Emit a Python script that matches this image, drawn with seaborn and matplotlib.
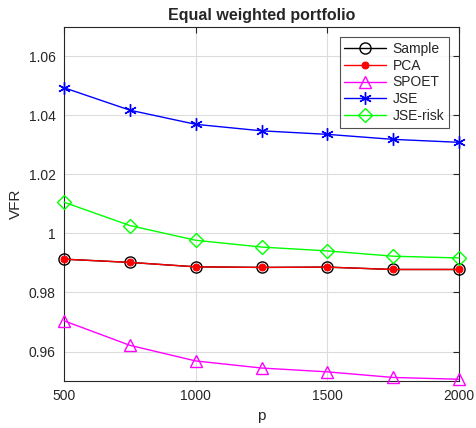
import matplotlib
matplotlib.use("Agg")
import matplotlib.pyplot as plt
import seaborn as sns
import pandas as pd
from matplotlib.ticker import FuncFormatter

# Portfolio dimension
p = [500, 750, 1000, 1250, 1500, 1750, 2000]

# Variance forecast ratio for each estimator
vfr_sample = [0.9913, 0.9902, 0.9887, 0.9885, 0.9886, 0.9878, 0.9878]
vfr_pca = [0.9913, 0.9902, 0.9887, 0.9885, 0.9886, 0.9878, 0.9878]
vfr_spoet = [0.9704, 0.9621, 0.9568, 0.9544, 0.9531, 0.9512, 0.9506]
vfr_jse = [1.0494, 1.0418, 1.0370, 1.0348, 1.0336, 1.0319, 1.0309]
vfr_jse_risk = [1.0106, 1.0027, 0.9977, 0.9954, 0.9941, 0.9923, 0.9917]

series_names = ["Sample", "PCA", "SPOET", "JSE", "JSE-risk"]
series_values = [vfr_sample, vfr_pca, vfr_spoet, vfr_jse, vfr_jse_risk]

x_ticks = [500, 1000, 1500, 2000]
y_ticks = [0.96, 0.98, 1.00, 1.02, 1.04, 1.06]

styles = {
    "Sample": dict(color="black", marker="o", markersize=8, markerfacecolor="none",
                   markeredgecolor="black", markeredgewidth=1.0),
    "PCA": dict(color="red", marker="o", markersize=5, markerfacecolor="red",
                markeredgecolor="red"),
    "SPOET": dict(color="magenta", marker="^", markersize=9, markerfacecolor="none",
                  markeredgecolor="magenta", markeredgewidth=1.0),
    "JSE": dict(color="blue", marker=(6, 2, 0), markersize=9, markeredgecolor="blue",
                markeredgewidth=1.0),
    "JSE-risk": dict(color="#00ff00", marker="D", markersize=7.5, markerfacecolor="none",
                     markeredgecolor="#00ff00", markeredgewidth=1.0),
}

sns.set_theme(style="white")
plt.rcParams["font.family"] = ["Liberation Sans", "DejaVu Sans"]

fig = plt.figure(figsize=(4.76, 4.28), dpi=100)
ax = fig.add_axes([0.1345, 0.1098, 0.8298, 0.8272])

for name, vals in zip(series_names, series_values):
    df = pd.DataFrame({"p": p, "VFR": vals})
    sns.lineplot(data=df, x="p", y="VFR", ax=ax, label=name, linewidth=1.0,
                 clip_on=False, zorder=3, **styles[name])

ax.set_xlim(500, 2000)
ax.set_ylim(0.95, 1.07)
ax.set_xticks(x_ticks)
ax.set_yticks(y_ticks)
ax.yaxis.set_major_formatter(FuncFormatter(lambda v, _: f"{v:g}"))

ax.grid(True, color="#dcdcdc", linewidth=0.8)
ax.set_axisbelow(True)
for s in ax.spines.values():
    s.set_color("#262626")
    s.set_linewidth(0.8)
ax.tick_params(direction="in", top=True, right=True, length=4, width=0.8,
               colors="#262626", labelsize=10, labelcolor="#262626", pad=6)

ax.set_xlabel("p", fontsize=11, color="#262626")
ax.set_ylabel("VFR", fontsize=11, color="#262626")
ax.set_title("Equal weighted portfolio", fontsize=11.5, fontweight="bold", pad=5)

leg = ax.legend(loc="upper right", fontsize=10, frameon=True, fancybox=False,
                edgecolor="#262626", handlelength=3.0, borderpad=0.35,
                labelspacing=0.2, handletextpad=0.45, borderaxespad=0.72)
leg.get_frame().set_linewidth(0.8)
leg.set_zorder(5)

fig.savefig("out.png", dpi=100)
